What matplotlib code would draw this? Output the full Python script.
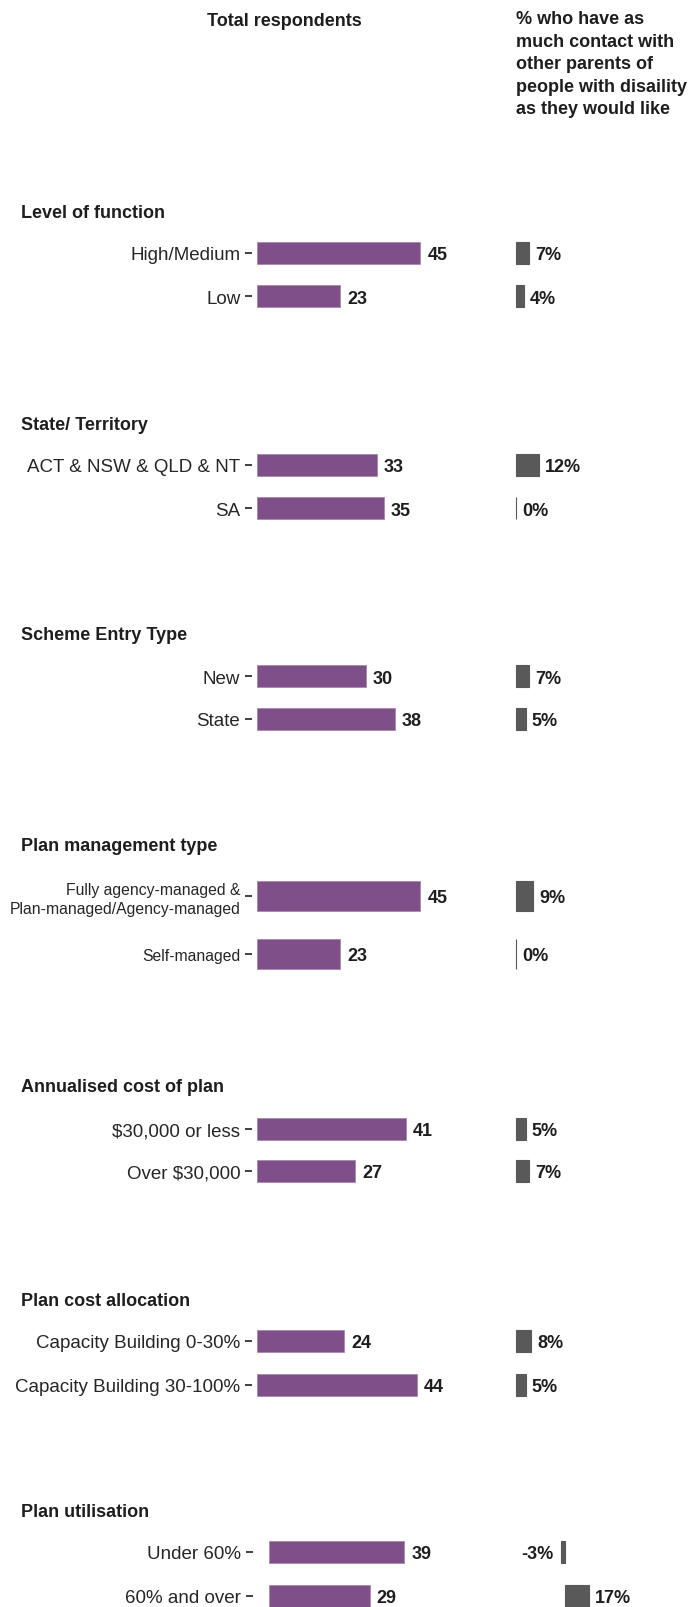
import matplotlib
matplotlib.use("Agg")
import matplotlib.pyplot as plt

plt.rcParams['font.family'] = ['Liberation Sans', 'DejaVu Sans']

# chart data
section_titles = ["Level of function", "State/ Territory", "Scheme Entry Type",
                  "Plan management type", "Annualised cost of plan",
                  "Plan cost allocation", "Plan utilisation"]
group_labels = [
    ["High/Medium", "Low"],
    ["ACT & NSW & QLD & NT", "SA"],
    ["New", "State"],
    ["Fully agency-managed &\nPlan-managed/Agency-managed", "Self-managed"],
    ["$30,000 or less", "Over $30,000"],
    ["Capacity Building 0-30%", "Capacity Building 30-100%"],
    ["Under 60%", "60% and over"],
]
respondents = [[45, 23], [33, 35], [30, 38], [45, 23], [41, 27], [24, 44], [39, 29]]
pct_contact = [[7, 4], [12, 0], [7, 5], [9, 0], [5, 7], [8, 5], [-3, 17]]

left_header = "Total respondents"
right_header = "% who have as\nmuch contact with\nother parents of\npeople with disaility\nas they would like"

# layout (pixels)
W, H = 697, 1608
title_y = [213, 425, 636, 847, 1087, 1302, 1513]
first_row_y = [254, 466, 677, 897, 1130, 1342, 1553]
row_gap = [43, 43, 43, 58, 42, 44, 44]
left_x0 = [257] * 6 + [269]
left_scale = [3.63] * 6 + [3.47]
tick_gap = [5] * 6 + [16]
right_x0 = [516] * 6 + [565]
right_scale = [1.9] * 6 + [1.4]
label_size = [13.5, 13.5, 13.5, 11.3, 13.5, 13.5, 13.5]

purple = '#7f4f8a'
grey = '#595959'
txt = '#1e1e1e'
PT = 0.72  # points per pixel at dpi 100


def px_box(x, y, w, h):
    return [x / W, 1 - (y + h) / H, w / W, h / H]


fig = plt.figure(figsize=(W / 100, H / 100), dpi=100)

fig.text(284 / W, 1 - 22 / H, left_header, ha='center', va='center',
         fontsize=13, fontweight='bold', color=txt)
fig.text(516 / W, 1 - 11 / H, right_header, ha='left', va='top',
         fontsize=13, fontweight='bold', color=txt, linespacing=1.43)

for k in range(len(section_titles)):
    gap = row_gap[k]
    top = first_row_y[k] - gap / 2
    fig.text(21 / W, 1 - title_y[k] / H, section_titles[k], ha='left', va='center',
             fontsize=13, fontweight='bold', color=txt)

    # left panel: total respondents
    ax = fig.add_axes(px_box(left_x0[k], top, 50 * left_scale[k], 2 * gap))
    ypos = list(range(len(respondents[k])))
    ax.barh(ypos, respondents[k], height=0.51, color=purple,
            edgecolor='#a888b0', linewidth=0.6)
    ax.set_xlim(0, 50)
    ax.set_ylim(1.5, -0.5)
    for s in ax.spines.values():
        s.set_visible(False)
    ax.spines['left'].set_position(('outward', tick_gap[k] * PT))
    ax.set_xticks([])
    ax.set_yticks(ypos)
    ax.set_yticklabels(group_labels[k], fontsize=label_size[k], color='#262626',
                       linespacing=1.3)
    ax.tick_params(axis='y', length=7.5 * PT, width=1.3, color='#333333', pad=3)
    ax.patch.set_visible(False)
    for i, v in enumerate(respondents[k]):
        ax.annotate(str(v), (v, i), xytext=(7 * PT, 0), textcoords='offset points',
                    ha='left', va='center_baseline', fontsize=13, fontweight='bold',
                    color=txt, annotation_clip=False)

    # right panel: % with as much contact as they would like
    sc = right_scale[k]
    ax2 = fig.add_axes(px_box(right_x0[k] - 10 * sc, top, 40 * sc, 2 * gap))
    ax2.barh(ypos, pct_contact[k], height=0.51, color=grey,
             edgecolor=grey, linewidth=0.8)
    ax2.set_xlim(-10, 30)
    ax2.set_ylim(1.5, -0.5)
    ax2.axis('off')
    for i, v in enumerate(pct_contact[k]):
        if v >= 0:
            ax2.annotate(f"{v}%", (v, i), xytext=(6 * PT, 0), textcoords='offset points',
                         ha='left', va='center_baseline', fontsize=13, fontweight='bold',
                         color=txt, annotation_clip=False)
        else:
            ax2.annotate(f"{v}%", (v, i), xytext=(-7 * PT, 0), textcoords='offset points',
                         ha='right', va='center_baseline', fontsize=13, fontweight='bold',
                         color=txt, annotation_clip=False)

fig.savefig("out.png", dpi=100)
